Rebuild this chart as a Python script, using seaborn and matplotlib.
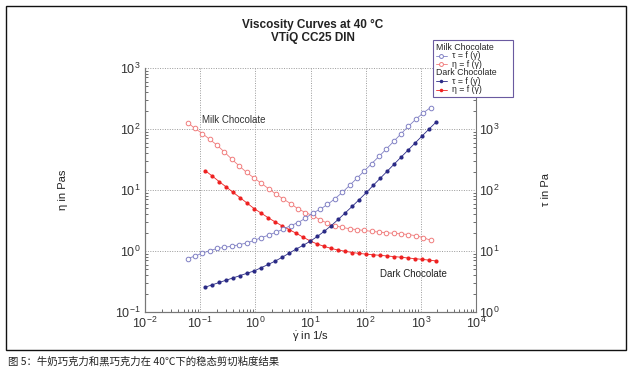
import matplotlib
matplotlib.use("Agg")
import matplotlib.pyplot as plt
import seaborn as sns
import pandas as pd
from matplotlib.lines import Line2D
from matplotlib.patches import Rectangle
from matplotlib.ticker import LogLocator, NullFormatter

# ---------------- data ----------------
milk_rate = [0.0594, 0.0807, 0.110, 0.149, 0.203, 0.276, 0.375, 0.510, 0.693, 0.942,
             1.28, 1.74, 2.37, 3.22, 4.38, 5.96, 8.09, 11.0, 15.0, 20.3,
             27.7, 37.6, 51.2, 69.5, 94.4, 128, 175, 238, 323, 439,
             597, 811, 1100, 1500]
milk_eta = [126.8, 102, 84, 67.6, 54.3, 41.7, 32, 24.8, 19.5, 15.8,
            12.9, 10.5, 8.57, 7.11, 5.96, 4.90, 4.27, 3.80, 3.24, 2.85,
            2.60, 2.43, 2.32, 2.24, 2.17, 2.10, 2.04, 1.99, 1.95, 1.91,
            1.86, 1.78, 1.66, 1.50]
milk_tau = [7.53, 8.26, 9.25, 10.1, 11.0, 11.5, 12.0, 12.7, 13.5, 14.9,
            16.5, 18.2, 20.3, 22.9, 26.1, 29.2, 34.5, 41.9, 48.4, 57.9,
            71.9, 91.2, 119, 156, 205, 270, 356, 472, 628, 836,
            1112, 1442, 1832, 2244]

dark_rate = [0.124, 0.166, 0.222, 0.297, 0.398, 0.532, 0.713, 0.955, 1.28, 1.71,
             2.30, 3.08, 4.12, 5.52, 7.40, 9.91, 13.3, 17.8, 23.8, 31.9,
             42.7, 57.1, 76.6, 103, 137, 184, 247, 330, 443, 592,
             793, 1062, 1422, 1905]
dark_eta = [20.7, 16.9, 13.7, 11.2, 9.12, 7.45, 6.07, 4.94, 4.17, 3.51,
            2.99, 2.57, 2.24, 1.95, 1.68, 1.46, 1.30, 1.19, 1.10, 1.035,
            0.989, 0.944, 0.912, 0.887, 0.867, 0.849, 0.828, 0.809, 0.789, 0.767,
            0.748, 0.729, 0.708, 0.686]
dark_tau = [2.56, 2.79, 3.05, 3.33, 3.63, 3.96, 4.33, 4.72, 5.33, 6.01,
            6.85, 7.91, 9.23, 10.8, 12.4, 14.5, 17.3, 21.1, 26.1, 33.0,
            42.2, 54.0, 69.8, 91.0, 119, 156, 204, 267, 349, 454,
            593, 774, 1007, 1306]

series_labels = ["Milk Chocolate       ", "τ = f (γ\u0307)", "η = f (γ\u0307)",
                 "Dark Chocolate", "τ = f (γ\u0307)", "η = f (γ\u0307)"]
x_ticks = [1e-2, 1e-1, 1e0, 1e1, 1e2, 1e3, 1e4]
eta_ticks = [1e-1, 1e0, 1e1, 1e2, 1e3]
tau_ticks = [1e0, 1e1, 1e2, 1e3]

c_milk_tau = "#8080c4"
c_milk_eta = "#f07c7c"
c_dark_tau = "#2b2b86"
c_dark_eta = "#ee2222"

# ---------------- style ----------------
sns.set_theme(style="white")
plt.rcParams['font.family'] = ['Liberation Sans', 'DejaVu Sans', 'Noto Sans CJK SC']
plt.rcParams['mathtext.fontset'] = 'custom'
plt.rcParams['mathtext.rm'] = 'Liberation Sans'
plt.rcParams['mathtext.it'] = 'Liberation Sans'
plt.rcParams['mathtext.bf'] = 'Liberation Sans:bold'

fig = plt.figure(figsize=(6.32, 3.79), dpi=100)
fig.patch.set_facecolor("white")

ax = fig.add_axes([145/632, 1 - 312/379, 331/632, 244/379])
ax2 = ax.twinx()
for a in (ax, ax2):
    a.set_xscale("log")
    a.set_yscale("log")
    a.set_facecolor("none")

open_kw = dict(linewidth=0.6, marker="o", markersize=3.3, markerfacecolor="white",
               markeredgewidth=0.7)
fill_kw = dict(linewidth=0.6, marker="o", markersize=3.0, markeredgewidth=0.0)

df_milk = pd.DataFrame({"rate": milk_rate, "eta": milk_eta, "tau": milk_tau})
df_dark = pd.DataFrame({"rate": dark_rate, "eta": dark_eta, "tau": dark_tau})

sns.lineplot(data=df_milk, x="rate", y="eta", ax=ax, color=c_milk_eta,
             markeredgecolor=c_milk_eta, sort=False, errorbar=None, **open_kw)
sns.lineplot(data=df_dark, x="rate", y="eta", ax=ax, color=c_dark_eta,
             markerfacecolor=c_dark_eta, sort=False, errorbar=None, **fill_kw)
sns.lineplot(data=df_milk, x="rate", y="tau", ax=ax2, color=c_milk_tau,
             markeredgecolor=c_milk_tau, sort=False, errorbar=None, **open_kw)
sns.lineplot(data=df_dark, x="rate", y="tau", ax=ax2, color=c_dark_tau,
             markerfacecolor=c_dark_tau, sort=False, errorbar=None, **fill_kw)

ax.set_xlim(1e-2, 1e4)
ax.set_ylim(1e-1, 1e3)
ax2.set_ylim(1e0, 1e4)
ax.set_xticks(x_ticks)
ax.set_yticks(eta_ticks)
ax2.set_yticks(tau_ticks)
for a in (ax, ax2):
    a.xaxis.set_minor_locator(LogLocator(base=10, subs=range(2, 10), numticks=20))
    a.yaxis.set_minor_locator(LogLocator(base=10, subs=range(2, 10), numticks=20))
    a.xaxis.set_minor_formatter(NullFormatter())
    a.yaxis.set_minor_formatter(NullFormatter())

ax.grid(True, which="major", linestyle=(0, (1, 1.5)), color="#9a9a9a", linewidth=0.7)
ax2.grid(False)

ax.tick_params(axis="both", which="both", direction="in", bottom=True, left=True,
               top=False, right=False, colors="#555555", labelcolor="#333333")
ax.tick_params(which="major", length=0, labelsize=9, pad=3)
ax.tick_params(which="minor", length=2.5, width=0.6)
ax2.tick_params(axis="y", which="both", direction="in", right=True, left=False,
                colors="#555555", labelcolor="#333333")
ax2.tick_params(axis="y", which="major", length=0, labelsize=9, pad=2)
ax2.tick_params(axis="y", which="minor", length=2.5, width=0.6)

for a in (ax, ax2):
    a.spines["top"].set_visible(False)
    for s in ("left", "right", "bottom"):
        a.spines[s].set_color("#777777")
        a.spines[s].set_linewidth(0.8)
ax.spines["right"].set_visible(False)

ax.set_xlabel("$\\dot{γ}$ in 1/s", fontsize=8, color="#222222")
ax.set_ylabel("η in Pas", fontsize=8, color="#222222")
ax2.set_ylabel("τ in Pa", fontsize=8, color="#222222")
ax.xaxis.set_label_coords(0.5, (312 - 337) / 244)
ax.xaxis.label.set_va("center")
ax.yaxis.set_label_coords((63 - 145) / 331, 0.5)
ax.yaxis.label.set_va("center")
ax2.yaxis.set_label_coords((546 - 145) / 331, 0.5)
ax2.yaxis.label.set_va("center")

# annotations
ax.text(0.11, 140, "Milk Chocolate", fontsize=7, color="#333333", va="center", ha="left")
ax.text(181, 0.42, "Dark Chocolate", fontsize=7, color="#222222", va="center", ha="left")

# title
fig.text(313 / 632, 1 - 25 / 379, "Viscosity Curves at 40 °C", fontsize=8.5,
         fontweight="bold", ha="center", va="center", color="#222222")
fig.text(313 / 632, 1 - 38 / 379, "VTiQ CC25 DIN", fontsize=8.5,
         fontweight="bold", ha="center", va="center", color="#222222")

# legend
blank = Line2D([], [], linestyle="none", marker=None)
handles = [
    blank,
    Line2D([], [], color=c_milk_tau, markeredgecolor=c_milk_tau, **open_kw),
    Line2D([], [], color=c_milk_eta, markeredgecolor=c_milk_eta, **open_kw),
    blank,
    Line2D([], [], color=c_dark_tau, markerfacecolor=c_dark_tau, **fill_kw),
    Line2D([], [], color=c_dark_eta, markerfacecolor=c_dark_eta, **fill_kw),
]
leg = fig.legend(handles, series_labels, loc="upper left",
                 bbox_to_anchor=(433 / 632, 1 - 40 / 379), fontsize=6.3,
                 frameon=True, fancybox=False, framealpha=1, edgecolor="#6a5aa0",
                 borderpad=0.3, labelspacing=-0.05, handlelength=1.3, handleheight=0.4,
                 handletextpad=0.6, borderaxespad=0, markerscale=0.85)
leg.get_frame().set_linewidth(0.8)
try:
    rows = leg._legend_handle_box.get_children()[0].get_children()
    for i in (0, 3):
        rows[i].get_children()[0].set_width(0)
        rows[i].sep = 0
except Exception:
    pass

# outer frame and caption
fig.add_artist(Rectangle((6 / 632, 1 - 350 / 379), 620 / 632, 344 / 379,
                         transform=fig.transFigure, fill=False,
                         edgecolor="#111111", linewidth=1.0))
fig.text(8 / 632, 1 - 362 / 379, "图 5：牛奶巧克力和黑巧克力在 40℃下的稳态剪切粘度结果",
         fontsize=7.5, ha="left", va="center", color="#222222",
         family=['Noto Sans CJK SC', 'DejaVu Sans'])

fig.savefig("out.png", dpi=100, facecolor="white")
